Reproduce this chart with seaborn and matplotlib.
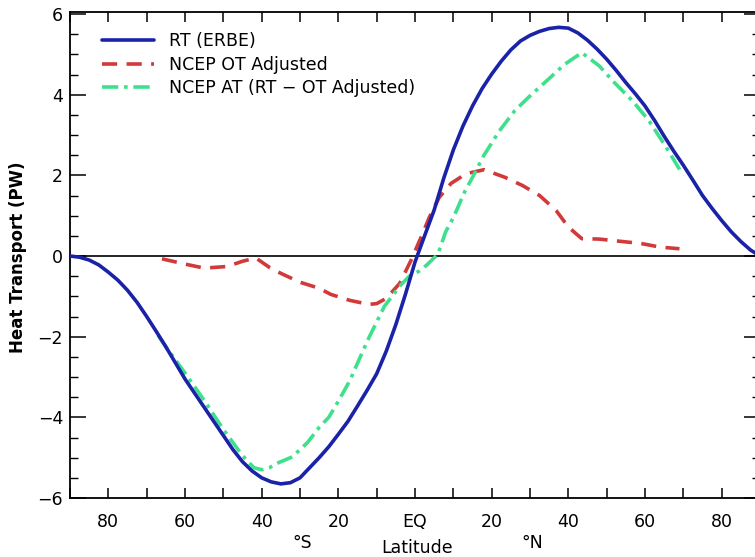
import numpy as np
import pandas as pd
import matplotlib
matplotlib.use("Agg")
import matplotlib.pyplot as plt
import seaborn as sns
from matplotlib.ticker import MultipleLocator, FixedLocator, FixedFormatter

# ---------------- data ----------------
rt_lat = [-90, -87.5, -85, -82.5, -80, -77.5, -75, -72.5, -70, -67.5, -65, -62.5, -60,
          -57.5, -55, -52.5, -50, -47.5, -45, -42.5, -40, -37.5, -35, -32.5, -30,
          -27.5, -25, -22.5, -20, -17.5, -15, -12.5, -10, -7.5, -5, -2.5, 0, 2.5, 5,
          7.5, 10, 12.5, 15, 17.5, 20, 22.5, 25, 27.5, 30, 32.5, 35, 37.5, 40, 42.5,
          45, 47.5, 50, 52.5, 55, 57.5, 60, 62.5, 65, 67.5, 70, 72.5, 75, 77.5, 80,
          82.5, 85, 87.5, 90]
rt_val = [0.0, -0.03, -0.1, -0.22, -0.4, -0.6, -0.85, -1.15, -1.5, -1.87, -2.25, -2.65,
          -3.05, -3.4, -3.75, -4.1, -4.45, -4.8, -5.1, -5.33, -5.5, -5.6, -5.65, -5.62,
          -5.5, -5.25, -5.0, -4.73, -4.42, -4.1, -3.72, -3.33, -2.92, -2.36, -1.7,
          -0.95, -0.15, 0.5, 1.14, 1.93, 2.63, 3.22, 3.72, 4.15, 4.51, 4.83, 5.11,
          5.33, 5.47, 5.57, 5.64, 5.67, 5.65, 5.53, 5.35, 5.13, 4.88, 4.6, 4.3, 4.02,
          3.72, 3.36, 2.97, 2.6, 2.25, 1.88, 1.5, 1.18, 0.88, 0.6, 0.36, 0.15, 0.0]

ot_lat = [-66, -60, -55, -49, -45, -41.5, -38, -35, -30, -25, -22, -17, -12, -10, -7.5,
          -4, -1, 1.6, 3.7, 6.3, 9.4, 13.3, 18, 23.5, 28, 32.5, 36.8, 40, 43.5, 48, 54,
          59, 64, 69]
ot_val = [-0.07, -0.2, -0.3, -0.26, -0.13, -0.05, -0.28, -0.43, -0.65, -0.8, -0.95,
          -1.1, -1.2, -1.18, -1.05, -0.68, -0.1, 0.47, 0.95, 1.45, 1.8, 2.04, 2.14,
          1.95, 1.75, 1.5, 1.13, 0.72, 0.43, 0.42, 0.36, 0.31, 0.22, 0.18]

at_lat = [-67, -65, -60, -55, -50, -45, -42, -40, -38, -36, -32, -28, -25, -22.5, -20,
          -17, -14.5, -12, -8, -4, -1.5, 1, 3, 6, 8, 10, 13, 15, 18, 22, 26, 30, 35, 39,
          43.5, 48, 52, 56.7, 61, 65.5, 69.7]
at_val = [-1.97, -2.25, -2.9, -3.58, -4.3, -4.95, -5.25, -5.3, -5.25, -5.14, -4.98,
          -4.62, -4.25, -4.0, -3.6, -3.09, -2.55, -2.02, -1.25, -0.75, -0.5, -0.38,
          -0.23, 0.05, 0.6, 0.95, 1.6, 1.95, 2.5, 3.1, 3.6, 3.97, 4.4, 4.75, 5.04,
          4.72, 4.3, 3.85, 3.36, 2.7, 2.04]

series_labels = ["RT (ERBE)", "NCEP OT Adjusted", "NCEP AT (RT \u2212 OT Adjusted)"]
x_tick_pos = [-80, -60, -40, -20, 0, 20, 40, 60, 80]
x_tick_lab = ["80", "60", "40", "20", "EQ", "20", "40", "60", "80"]

# ---------------- figure ----------------
sns.set_style("white")
plt.rcParams['font.family'] = ['DejaVu Sans']
plt.rcParams['text.color'] = 'black'
plt.rcParams['xtick.color'] = 'black'
plt.rcParams['ytick.color'] = 'black'

W, H = 755, 557
fig = plt.figure(figsize=(W / 100, H / 100), dpi=100)
ax = fig.add_axes([70 / W, 59 / H, 690 / W, 486 / H])

ax.axhline(0, color="black", lw=1.2, zorder=1)

blue = "#1a22a8"
red = "#d23a3a"
green = "#3ee08c"

sns.lineplot(x=rt_lat, y=rt_val, ax=ax, color=blue, lw=2.6, label=series_labels[0],
             sort=False, estimator=None, zorder=3)
sns.lineplot(x=ot_lat, y=ot_val, ax=ax, color=red, lw=2.6, label=series_labels[1],
             sort=False, estimator=None, zorder=2, linestyle=(0, (4.2, 2.6)))
sns.lineplot(x=at_lat, y=at_val, ax=ax, color=green, lw=2.6, label=series_labels[2],
             sort=False, estimator=None, zorder=2,
             linestyle=(0, (4.5, 1.6, 1.0, 1.6)))

ax.set_xlim(-90, 90)
ax.set_ylim(-6.0, 6.05)

ax.xaxis.set_major_locator(FixedLocator(x_tick_pos))
ax.xaxis.set_major_formatter(FixedFormatter(x_tick_lab))
ax.xaxis.set_minor_locator(MultipleLocator(10))
ax.yaxis.set_major_locator(MultipleLocator(2))
ax.yaxis.set_minor_locator(MultipleLocator(0.5))

ax.tick_params(axis="x", which="both", direction="in", length=7, width=1.1,
               top=True, bottom=True, labelsize=12.5, pad=11, colors="black")
ax.tick_params(axis="y", which="major", direction="in", length=11.5, width=1.1,
               left=True, right=True, labelsize=12.5, pad=5, colors="black")
ax.tick_params(axis="y", which="minor", direction="in", length=6, width=1.0,
               left=True, right=True, colors="black")

for s in ax.spines.values():
    s.set_color("black")
    s.set_linewidth(1.3)

ax.set_xlabel("")
ax.set_ylabel("")

# axis annotations
ax.text(-29.5, (14 - 59) / 486, "\u00b0S", transform=ax.get_xaxis_transform(),
        ha="center", va="center", fontsize=12.5, color="black")
ax.text(30.5, (14 - 59) / 486, "\u00b0N", transform=ax.get_xaxis_transform(),
        ha="center", va="center", fontsize=12.5, color="black")
ax.text(0.5, (9 - 59) / 486, "Latitude", transform=ax.get_xaxis_transform(),
        ha="center", va="center", fontsize=12.5, color="black")
fig.text(18 / W, (H - 257) / H, "Heat Transport (PW)", rotation=90,
         ha="center", va="center", fontsize=12, fontweight="bold", color="black")

leg = ax.legend(loc="upper left", bbox_to_anchor=(0.046, 0.958), frameon=False,
                handlelength=3.0, fontsize=12.5, labelspacing=0.3,
                borderaxespad=0, borderpad=0, handletextpad=0.9)
for t in leg.get_texts():
    t.set_color("black")

fig.savefig("out.png", dpi=100, facecolor="white")
